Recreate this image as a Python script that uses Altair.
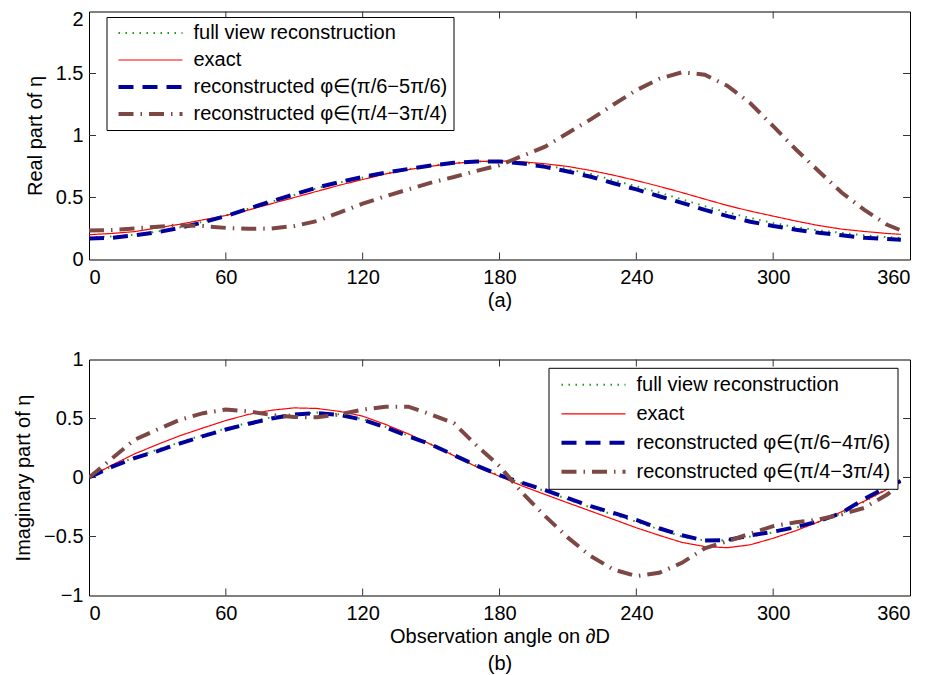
import altair as alt
import pandas as pd

# ---------------- data ----------------
angles = [0, 10, 20, 30, 40, 50, 60, 70, 80, 90, 100, 110, 120, 130, 140, 150, 160, 170,
          180, 190, 200, 210, 220, 230, 240, 250, 260, 270, 280, 290, 300, 310, 320, 330,
          340, 350, 356]

# (a) real part
re_full = [0.18, 0.185, 0.20, 0.225, 0.26, 0.305, 0.355, 0.41, 0.465, 0.52, 0.575, 0.62, 0.66,
           0.695, 0.728, 0.756, 0.778, 0.79, 0.792, 0.782, 0.76, 0.728, 0.69, 0.64, 0.59, 0.54,
           0.485, 0.43, 0.38, 0.335, 0.295, 0.26, 0.235, 0.215, 0.195, 0.18, 0.175]
re_exact = [0.20, 0.21, 0.225, 0.255, 0.285, 0.32, 0.355, 0.40, 0.45, 0.50, 0.55, 0.60, 0.645,
            0.69, 0.725, 0.752, 0.775, 0.79, 0.795, 0.788, 0.772, 0.75, 0.718, 0.68, 0.637, 0.59,
            0.54, 0.487, 0.435, 0.39, 0.35, 0.31, 0.274, 0.245, 0.226, 0.21, 0.203]
re_rec1 = [0.17, 0.175, 0.195, 0.22, 0.255, 0.30, 0.35, 0.41, 0.47, 0.525, 0.58, 0.625, 0.665,
           0.70, 0.73, 0.758, 0.78, 0.79, 0.79, 0.775, 0.747, 0.71, 0.667, 0.615, 0.565, 0.51,
           0.457, 0.40, 0.35, 0.305, 0.27, 0.24, 0.215, 0.195, 0.175, 0.165, 0.16]
re_rec2 = [0.234, 0.238, 0.25, 0.265, 0.274, 0.27, 0.255, 0.247, 0.25, 0.27, 0.31, 0.38, 0.45,
           0.51, 0.565, 0.62, 0.665, 0.715, 0.76, 0.835, 0.91, 1.02, 1.13, 1.25, 1.365, 1.457,
           1.51, 1.49, 1.40, 1.26, 1.075, 0.887, 0.712, 0.54, 0.40, 0.28, 0.235]

# (b) imaginary part
im_full = [0.0, 0.095, 0.17, 0.235, 0.30, 0.36, 0.415, 0.465, 0.51, 0.54, 0.55, 0.535, 0.495,
           0.43, 0.355, 0.28, 0.19, 0.10, 0.015, -0.05, -0.115, -0.185, -0.255, -0.315, -0.375,
           -0.44, -0.50, -0.535, -0.53, -0.50, -0.465, -0.425, -0.375, -0.305, -0.205, -0.095, -0.03]
im_exact = [0.0, 0.105, 0.20, 0.28, 0.355, 0.42, 0.483, 0.535, 0.57, 0.59, 0.585, 0.56, 0.52,
            0.45, 0.37, 0.28, 0.185, 0.09, 0.01, -0.072, -0.144, -0.215, -0.285, -0.355, -0.426,
            -0.49, -0.55, -0.585, -0.595, -0.57, -0.515, -0.45, -0.375, -0.29, -0.20, -0.10, -0.03]
im_rec1 = [0.0, 0.09, 0.165, 0.224, 0.29, 0.35, 0.407, 0.455, 0.50, 0.534, 0.545, 0.53, 0.49,
           0.425, 0.35, 0.28, 0.19, 0.10, 0.02, -0.045, -0.107, -0.175, -0.243, -0.30, -0.36,
           -0.43, -0.49, -0.535, -0.53, -0.49, -0.46, -0.42, -0.37, -0.30, -0.18, -0.08, -0.03]
im_rec2 = [0.0, 0.16, 0.32, 0.407, 0.49, 0.545, 0.576, 0.56, 0.53, 0.512, 0.51, 0.535, 0.576,
           0.60, 0.60, 0.534, 0.46, 0.27, 0.097, -0.13, -0.327, -0.51, -0.666, -0.78, -0.836,
           -0.808, -0.723, -0.60, -0.54, -0.475, -0.412, -0.38, -0.356, -0.313, -0.257, -0.144, -0.06]

names_a = ["full view reconstruction", "exact",
           "reconstructed \u03c6\u2208(\u03c0/6\u22125\u03c0/6)",
           "reconstructed \u03c6\u2208(\u03c0/4\u22123\u03c0/4)"]
names_b = ["full view reconstruction", "exact",
           "reconstructed \u03c6\u2208(\u03c0/6\u22124\u03c0/6)",
           "reconstructed \u03c6\u2208(\u03c0/4\u22123\u03c0/4)"]

x_ticks = [0, 60, 120, 180, 240, 300, 360]
y_ticks_a = [0, 0.5, 1, 1.5, 2]
y_ticks_b = [-1, -0.5, 0, 0.5, 1]

# ---------------- styles ----------------
FONT = "Liberation Sans"
colors = ["#1f9a1f", "#ff0000", "#00009c", "#7d4843"]
dashes = [[1.5, 5.5], [1, 0], [15, 9], [15, 7, 1.5, 7]]
widths = [2.0, 1.2, 4.0, 4.0]
W = 821
H_A = 248
H_B = 236
TICK = 7


def long_df(names, series):
    rows = []
    for name, vals in zip(names, series):
        for a, v in zip(angles, vals):
            rows.append({"angle": a, "value": v, "series": name})
    return pd.DataFrame(rows)


def panel(names, series, yticks, ydom, height, ytitle, xtitle, lx, ly, pad, rowpad, top_flush):
    df = long_df(names, series)
    xenc = alt.X("angle:Q",
                 scale=alt.Scale(domain=[0, 360], nice=False, zero=False),
                 axis=alt.Axis(values=x_ticks, title=xtitle, format="d"))
    yaxis_kw = dict(values=yticks, title=ytitle, format="~g")
    if top_flush:
        yaxis_kw["labelBaseline"] = {"condition": {"test": f"datum.value == {ydom[1]}", "value": "top"},
                                     "value": "middle"}
        yaxis_kw["labelOffset"] = {"condition": {"test": f"datum.value == {ydom[1]}", "value": -2},
                                   "value": 0}
    yenc = alt.Y("value:Q",
                 scale=alt.Scale(domain=ydom, nice=False, zero=False),
                 axis=alt.Axis(**yaxis_kw))
    leg = alt.Legend(orient="none", legendX=lx, legendY=ly, title=None,
                     symbolType="stroke", symbolSize=4096, clipHeight=20,
                     rowPadding=rowpad, padding=pad, symbolOffset=4, labelOffset=9,
                     labelFont=FONT, labelFontSize=20, labelLimit=600, labelColor="black",
                     fillColor="white", strokeColor="black")
    lines = alt.Chart(df).mark_line(clip=True).encode(
        x=xenc, y=yenc,
        color=alt.Color("series:N", scale=alt.Scale(domain=names, range=colors), legend=leg),
        strokeDash=alt.StrokeDash("series:N", scale=alt.Scale(domain=names, range=dashes), legend=leg),
        strokeWidth=alt.StrokeWidth("series:N",
                                    scale=alt.Scale(type="ordinal", domain=names, range=widths),
                                    legend=leg),
        order=alt.Order("angle:Q"),
    )
    inner_x = pd.DataFrame({"angle": [t for t in x_ticks if 0 < t < 360]})
    inner_y = pd.DataFrame({"value": [t for t in yticks if ydom[0] < t < ydom[1]]})
    tick_style = dict(color="#333333", strokeWidth=1)
    xt_top = alt.Chart(inner_x).mark_rule(**tick_style).encode(
        x=xenc, y=alt.value(0), y2=alt.value(TICK))
    xt_bot = alt.Chart(inner_x).mark_rule(**tick_style).encode(
        x=xenc, y=alt.value(height), y2=alt.value(height - TICK))
    yt_left = alt.Chart(inner_y).mark_rule(**tick_style).encode(
        y=yenc, x=alt.value(0), x2=alt.value(TICK))
    yt_right = alt.Chart(inner_y).mark_rule(**tick_style).encode(
        y=yenc, x=alt.value(W), x2=alt.value(W - TICK))
    return alt.layer(xt_top, xt_bot, yt_left, yt_right, lines).properties(width=W, height=height)


top = panel(names_a, [re_full, re_exact, re_rec1, re_rec2], y_ticks_a, [0, 2], H_A,
            "Real part of \u03b7", "(a)", 17.5, 5.5, 6, 7, True)
bottom = panel(names_b, [im_full, im_exact, im_rec1, im_rec2], y_ticks_b, [-1, 1], H_B,
               "Imaginary part of \u03b7", ["Observation angle on \u2202D", "(b)"], 459.5, 8.3, 7, 9, False)

chart = alt.vconcat(top, bottom, spacing=37).resolve_scale(
    color="independent", strokeDash="independent", strokeWidth="independent"
).resolve_legend(
    color="independent", strokeDash="independent", strokeWidth="independent"
).properties(
    padding={"top": 0.5, "left": 5, "right": 5, "bottom": 5}
).configure_view(
    stroke="black", strokeWidth=1
).configure_axis(
    domain=False, ticks=False, grid=False,
    labelFont=FONT, labelFontSize=20, labelColor="black", labelPadding=7,
    titleFont=FONT, titleFontSize=20, titleFontWeight="normal", titleColor="black",
    titleLineHeight=27,
).configure_axisX(
    labelPadding=8, titlePadding=3,
).configure_axisY(
    labelPadding=6, titlePadding=10,
)

chart.save("out.html", embed_options={"renderer": "svg", "actions": False})
